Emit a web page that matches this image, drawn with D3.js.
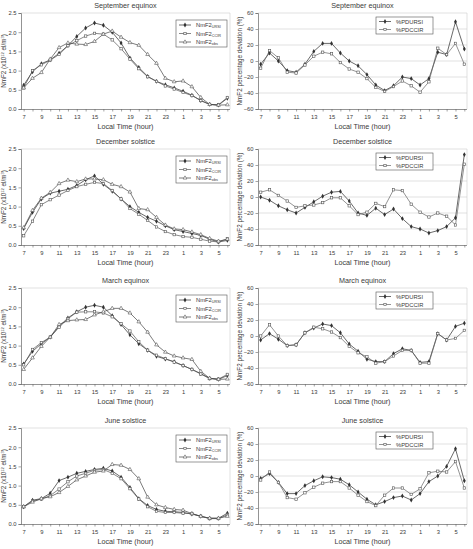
<!DOCTYPE html>
<html>
<head>
<meta charset="utf-8">
<script src="https://cdn.jsdelivr.net/npm/d3@7"></script>
<style>
  body { margin: 0; background: #fff; }
  svg { display: block; font-family: "Liberation Sans", Arial, sans-serif; }
</style>
</head>
<body>
<svg id="chart" width="473" height="549"></svg>
<script>
// hours of the local day, 07 LT to 06 LT
const hours = [7, 8, 9, 10, 11, 12, 13, 14, 15, 16, 17, 18, 19, 20, 21, 22, 23, 0, 1, 2, 3, 4, 5, 6];
const hourTicks = [7, 9, 11, 13, 15, 17, 19, 21, 23, 1, 3, 5];
const nmTicks = [0, 0.5, 1, 1.5, 2, 2.5];
const pdTicks = [-60, -40, -20, 0, 20, 40, 60];

// September equinox
const sepURSI = [0.62, 0.97, 1.18, 1.28, 1.45, 1.65, 1.89, 2.11, 2.24, 2.18, 2.00, 1.72, 1.33, 1.08, 0.85, 0.72, 0.63, 0.55, 0.46, 0.36, 0.22, 0.12, 0.10, 0.28];
const sepCCIR = [0.55, 1.00, 1.15, 1.27, 1.42, 1.65, 1.78, 1.90, 1.97, 1.95, 1.80, 1.57, 1.30, 1.05, 0.84, 0.72, 0.60, 0.52, 0.43, 0.35, 0.22, 0.12, 0.11, 0.30];
const sepObs  = [0.55, 0.80, 0.95, 1.30, 1.60, 1.72, 1.69, 1.68, 1.76, 1.95, 2.03, 1.87, 1.73, 1.66, 1.42, 1.19, 0.80, 0.71, 0.73, 0.58, 0.30, 0.12, 0.10, 0.11];
const sepPdURSI = [-4, 10, 0, -12, -14, -4, 12, 22, 22, 10, 0, -6, -17, -30, -37, -31, -20, -22, -30, -22, 11, 8, 49, 15];
const sepPdCCIR = [-9, 13, 4, -14, -15, -5, 6, 11, 9, -2, -10, -14, -22, -33, -38, -32, -25, -31, -39, -26, 16, 8, 22, -4];

// December solstice
const decURSI = [0.43, 0.85, 1.20, 1.35, 1.40, 1.45, 1.55, 1.70, 1.80, 1.58, 1.40, 1.20, 1.00, 0.85, 0.72, 0.62, 0.50, 0.40, 0.35, 0.30, 0.25, 0.15, 0.08, 0.12];
const decCCIR = [0.24, 0.62, 1.05, 1.18, 1.30, 1.42, 1.52, 1.58, 1.63, 1.60, 1.42, 1.20, 0.95, 0.80, 0.64, 0.47, 0.35, 0.27, 0.22, 0.20, 0.15, 0.10, 0.08, 0.16];
const decObs  = [0.45, 0.90, 1.22, 1.37, 1.60, 1.69, 1.65, 1.72, 1.72, 1.70, 1.58, 1.52, 1.38, 0.95, 0.92, 0.72, 0.52, 0.42, 0.40, 0.34, 0.27, 0.17, 0.10, 0.15];
const decPdURSI = [0, -4, -11, -16, -20, -13, -6, 1, 6, 7, -5, -20, -23, -14, -22, -15, -27, -37, -40, -45, -42, -37, -26, 53];
const decPdCCIR = [6, 9, 2, -5, -13, -11, -10, -7, -1, -1, -11, -22, -19, -8, -12, 9, 8, -9, -19, -25, -20, -24, -35, 41];

// March equinox
const marURSI = [0.52, 0.85, 1.05, 1.22, 1.50, 1.72, 1.88, 2.00, 2.05, 2.00, 1.78, 1.55, 1.28, 1.05, 0.88, 0.72, 0.65, 0.58, 0.48, 0.38, 0.27, 0.15, 0.12, 0.22];
const marCCIR = [0.50, 0.90, 1.08, 1.22, 1.48, 1.70, 1.87, 1.88, 1.88, 1.85, 1.75, 1.57, 1.38, 1.10, 0.88, 0.75, 0.66, 0.57, 0.48, 0.38, 0.26, 0.14, 0.13, 0.25];
const marObs  = [0.38, 0.68, 0.98, 1.22, 1.55, 1.65, 1.67, 1.68, 1.80, 1.88, 1.97, 1.97, 1.85, 1.62, 1.35, 1.02, 0.83, 0.73, 0.68, 0.64, 0.33, 0.15, 0.12, 0.13];
const marPdURSI = [-5, 3, -4, -12, -11, 4, 10, 15, 13, 4, -10, -19, -29, -32, -32, -22, -16, -18, -33, -32, 3, -5, 12, 16];
const marPdCCIR = [0, 14, 0, -12, -11, 4, 11, 9, 5, -2, -13, -21, -26, -34, -32, -25, -18, -18, -34, -34, 3, -5, -3, 7];

// June solstice
const junURSI = [0.45, 0.62, 0.66, 0.80, 1.13, 1.22, 1.32, 1.37, 1.42, 1.45, 1.38, 1.22, 0.95, 0.66, 0.48, 0.38, 0.33, 0.32, 0.30, 0.26, 0.20, 0.15, 0.15, 0.28];
const junCCIR = [0.45, 0.60, 0.65, 0.74, 0.91, 1.10, 1.25, 1.32, 1.40, 1.42, 1.32, 1.18, 0.92, 0.65, 0.45, 0.33, 0.30, 0.30, 0.28, 0.27, 0.20, 0.14, 0.14, 0.24];
const junObs  = [0.45, 0.57, 0.66, 0.71, 0.82, 0.98, 1.15, 1.25, 1.35, 1.38, 1.55, 1.53, 1.42, 1.18, 0.70, 0.50, 0.43, 0.38, 0.36, 0.27, 0.20, 0.15, 0.15, 0.20];
const junPdURSI = [-3, 3, -8, -22, -22, -12, -6, -1, -2, -4, -11, -20, -29, -36, -32, -27, -25, -30, -22, -7, 0, 12, 34, -6];
const junPdCCIR = [-5, 5, -8, -27, -29, -21, -14, -9, -7, -7, -15, -24, -32, -37, -24, -15, -15, -23, -16, 4, 6, 5, 18, -15];

const seasons = [
  { title: 'September equinox', top: 13, nm: [sepURSI, sepCCIR, sepObs], pd: [sepPdURSI, sepPdCCIR] },
  { title: 'December solstice', top: 149, nm: [decURSI, decCCIR, decObs], pd: [decPdURSI, decPdCCIR] },
  { title: 'March equinox', top: 288, nm: [marURSI, marCCIR, marObs], pd: [marPdURSI, marPdCCIR] },
  { title: 'June solstice', top: 428, nm: [junURSI, junCCIR, junObs], pd: [junPdURSI, junPdCCIR] }
];

const svg = d3.select('#chart');
const plotH = 96;
const textCol = '#3a3a3a';

function marker(g, type, x, y) {
  if (type === 'diamond') {
    g.append('path').attr('d', d3.symbol(d3.symbolDiamond, 7)())
      .attr('transform', `translate(${x},${y})`).attr('fill', '#333');
  } else if (type === 'square') {
    g.append('rect').attr('x', x - 1.2).attr('y', y - 1.2).attr('width', 2.4).attr('height', 2.4)
      .attr('fill', '#fff').attr('stroke', '#555').attr('stroke-width', 0.6);
  } else {
    g.append('path').attr('d', d3.symbol(d3.symbolTriangle, 6)())
      .attr('transform', `translate(${x},${y})`)
      .attr('fill', '#fff').attr('stroke', '#555').attr('stroke-width', 0.6);
  }
}

function drawPanel(opts) {
  const { left, right, top, title, series, types, colors, yDomain, yTicks, yLabel, yLabelX, legend, grid } = opts;
  const bottom = top + plotH;
  const g = svg.append('g');

  const x = d3.scalePoint().domain(d3.range(hours.length)).range([left, right]).padding(0.3);
  const y = d3.scaleLinear().domain(yDomain).range([bottom, top]);

  // title
  g.append('text').attr('x', (left + right) / 2).attr('y', top - 5)
    .attr('text-anchor', 'middle').attr('font-size', 7.2).attr('fill', textCol).text(title);

  // grid
  if (grid) {
    g.append('g').selectAll('line').data(yTicks.slice(1, -1)).join('line')
      .attr('x1', left).attr('x2', right)
      .attr('y1', d => y(d)).attr('y2', d => y(d))
      .attr('stroke', '#cfcfcf').attr('stroke-width', 0.6);
  }

  // frame (light top/right)
  g.append('path').attr('d', `M${left},${top}H${right}V${bottom}`)
    .attr('fill', 'none').attr('stroke', '#cfcfcf').attr('stroke-width', 0.6);

  // y axis
  const ya = g.append('g').attr('transform', `translate(${left},0)`)
    .call(d3.axisLeft(y).tickValues(yTicks).tickSize(2.5).tickPadding(2));
  ya.select('.domain').attr('stroke', '#666').attr('stroke-width', 0.7);
  ya.selectAll('.tick line').attr('stroke', '#666').attr('stroke-width', 0.6);
  ya.selectAll('text').attr('font-size', 5.8).attr('fill', textCol).attr('font-family', '"Liberation Sans", Arial, sans-serif');

  // x axis
  const xa = g.append('g').attr('transform', `translate(0,${bottom})`)
    .call(d3.axisBottom(x).tickSize(2.5).tickPadding(3)
      .tickFormat(i => hourTicks.includes(hours[i]) ? hours[i] : ''));
  xa.select('.domain').attr('stroke', '#666').attr('stroke-width', 0.7)
    .attr('d', `M${left},0.5H${right}`);
  xa.selectAll('.tick line').attr('stroke', '#666').attr('stroke-width', 0.6);
  xa.selectAll('text').attr('font-size', 5.8).attr('fill', textCol).attr('font-family', '"Liberation Sans", Arial, sans-serif');

  g.append('text').attr('x', (left + right) / 2).attr('y', bottom + 20)
    .attr('text-anchor', 'middle').attr('font-size', 7.2).attr('fill', textCol).text('Local Time (hour)');

  // y label
  const yl = g.append('text').attr('transform', `translate(${yLabelX},${(top + bottom) / 2}) rotate(-90)`)
    .attr('text-anchor', 'middle').attr('font-size', 6.3).attr('fill', textCol);
  yLabel(yl);

  // lines
  const line = d3.line().x((d, i) => x(i)).y(d => y(d));
  series.forEach((s, k) => {
    g.append('path').datum(s).attr('d', line)
      .attr('fill', 'none').attr('stroke', colors[k]).attr('stroke-width', 0.7);
  });
  series.forEach((s, k) => {
    s.forEach((v, i) => marker(g, types[k], x(i), y(v)));
  });

  // legend
  const lg = g.append('g');
  lg.append('rect').attr('x', legend.x).attr('y', top + legend.dy)
    .attr('width', legend.w).attr('height', legend.h)
    .attr('fill', '#fff').attr('stroke', '#555').attr('stroke-width', 0.6);
  legend.items.forEach((item, k) => {
    const ly = top + legend.dy + legend.first + k * legend.step;
    lg.append('line').attr('x1', legend.x + 3).attr('x2', legend.x + 15).attr('y1', ly).attr('y2', ly)
      .attr('stroke', colors[k]).attr('stroke-width', 0.7);
    marker(lg, types[k], legend.x + 9, ly);
    const t = lg.append('text').attr('x', legend.x + 20).attr('y', ly + 2)
      .attr('font-size', 5.8).attr('fill', textCol);
    item(t);
  });
}

const nmLegend = [
  t => { t.append('tspan').text('NmF2'); t.append('tspan').attr('font-size', 3.8).attr('dy', 1.2).text('URSI'); },
  t => { t.append('tspan').text('NmF2'); t.append('tspan').attr('font-size', 3.8).attr('dy', 1.2).text('CCIR'); },
  t => { t.append('tspan').text('NmF2'); t.append('tspan').attr('font-size', 3.8).attr('dy', 1.2).text('obs'); }
];
const pdLegend = [
  t => t.text('%PDURSI'),
  t => t.text('%PDCCIR')
];

seasons.forEach(s => {
  drawPanel({
    left: 21, right: 230, top: s.top, title: s.title,
    series: s.nm, types: ['diamond', 'square', 'triangle'], colors: ['#2a2a2a', '#555', '#444'],
    yDomain: [0, 2.5], yTicks: nmTicks,
    yLabelX: 6,
    yLabel: t => {
      t.append('tspan').text('NmF2 (x10');
      t.append('tspan').attr('font-size', 4).attr('dy', -2.5).text('12');
      t.append('tspan').attr('dy', 2.5).text(' el/m');
      t.append('tspan').attr('font-size', 4).attr('dy', -2.5).text('3');
      t.append('tspan').attr('dy', 2.5).text(')');
    },
    legend: { x: 176, dy: 7, w: 51, h: 27, first: 5, step: 8.5, items: nmLegend },
    grid: false
  });
  drawPanel({
    left: 258, right: 467, top: s.top, title: s.title,
    series: s.pd, types: ['diamond', 'square'], colors: ['#2a2a2a', '#666'],
    yDomain: [-60, 60], yTicks: pdTicks,
    yLabelX: 242,
    yLabel: t => t.text('NmF2 percentage deviation (%)'),
    legend: { x: 376, dy: 4, w: 57, h: 17, first: 4.5, step: 8, items: pdLegend },
    grid: true
  });
});
</script>
</body>
</html>
